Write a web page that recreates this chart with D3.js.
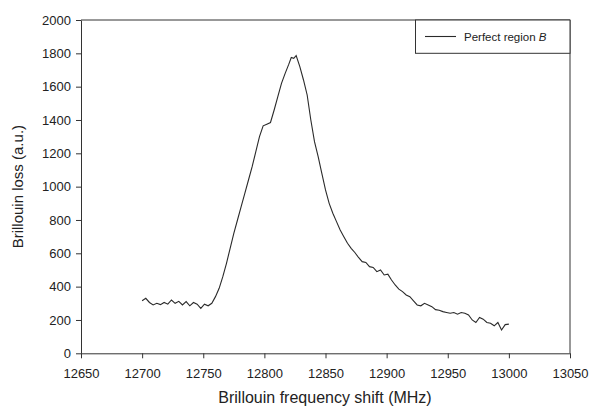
<!DOCTYPE html>
<head>
  <meta charset="utf-8">
  <script src="https://d3js.org/d3.v7.min.js"></script>
  <style>
    body { margin: 0; background: #fff; }
    * { font-family: "Liberation Sans", Arial, sans-serif; }
  </style>
</head>
<body>
  <div id="chart"></div>
  <script>
    // frequency shift (MHz) and Brillouin loss (a.u.)
    var freq = [12700,12703,12706,12709,12712,12715,12718,12721,12724,12727,
      12730,12733,12736,12739,12742,12745,12748,12751,12754,12757,
      12760,12763,12766,12769,12772,12775,12778,12781,12784,12787,
      12790,12793,12796,12799,12802,12805,12808,12811,12814,12817,
      12820,12822,12824,12826,12829,12832,12835,12838,12841,12844,
      12847,12850,12853,12856,12859,12862,12865,12868,12871,12874,
      12877,12880,12883,12886,12889,12892,12895,12898,12901,12904,
      12907,12910,12913,12916,12919,12922,12925,12928,12931,12934,
      12937,12940,12943,12946,12949,12952,12955,12958,12961,12964,
      12967,12970,12973,12976,12979,12982,12985,12988,12991,12994,
      12997,13000];
    var loss = [315,330,305,290,300,292,305,295,320,300,
      312,290,310,285,305,295,270,295,285,300,
      340,390,460,540,630,720,800,880,960,1040,
      1120,1210,1300,1365,1375,1385,1460,1540,1620,1680,
      1735,1775,1770,1786,1720,1640,1550,1400,1270,1180,
      1080,980,900,840,790,740,700,660,630,605,
      575,550,545,520,515,490,500,470,475,440,
      410,385,370,350,340,315,290,285,300,290,
      280,262,258,250,245,240,245,235,245,240,
      230,200,185,215,205,185,180,165,185,140,
      172,175];
    var xTicks = [12650,12700,12750,12800,12850,12900,12950,13000,13050];
    var yTicks = [0,200,400,600,800,1000,1200,1400,1600,1800,2000];
    var seriesName = "Perfect region ";

    var width = 592, height = 410;
    var svg = d3.select("#chart").append("svg")
      .attr("width", width).attr("height", height);

    var x = d3.scaleLinear().domain([12650, 13050]).range([81, 570]);
    var y = d3.scaleLinear().domain([0, 2000]).range([353.3, 20]);

    var ink = "#333";

    // box top/right
    svg.append("path")
      .attr("d", "M81,20H570V353.3")
      .attr("fill", "none").attr("stroke", ink).attr("stroke-width", 1);

    var xAxis = svg.append("g")
      .attr("transform", "translate(0," + y(0) + ")")
      .call(d3.axisBottom(x).tickValues(xTicks).tickFormat(d3.format("d")).tickSize(5).tickSizeOuter(0));
    var yAxis = svg.append("g")
      .attr("transform", "translate(" + x(12650) + ",0)")
      .call(d3.axisLeft(y).tickValues(yTicks).tickFormat(d3.format("d")).tickSize(5).tickSizeOuter(0));

    [xAxis, yAxis].forEach(function(g) {
      g.selectAll("path, line").attr("stroke", ink);
      g.selectAll("text").attr("fill", "#222").style("font-size", "13px");
    });
    xAxis.selectAll("text").attr("y", 10).attr("dy", "1.1em");
    yAxis.selectAll("text").attr("x", -10);

    var line = d3.line()
      .x(function(d, i) { return x(freq[i]); })
      .y(function(d) { return y(d); });

    svg.append("path")
      .datum(loss)
      .attr("d", line)
      .attr("fill", "none")
      .attr("stroke", "#2a2a2a")
      .attr("stroke-width", 1.1);

    // axis titles
    svg.append("text")
      .attr("x", 325).attr("y", 403)
      .attr("text-anchor", "middle")
      .style("font-size", "16px").attr("fill", "#222")
      .text("Brillouin frequency shift (MHz)");
    svg.append("text")
      .attr("transform", "translate(23," + ((y(0) + y(2000)) / 2) + ") rotate(-90)")
      .attr("text-anchor", "middle")
      .style("font-size", "15px").attr("fill", "#222")
      .text("Brillouin loss (a.u.)");

    // legend
    var lg = svg.append("g");
    lg.append("rect")
      .attr("x", 415.5).attr("y", 20).attr("width", 154.5).attr("height", 33.3)
      .attr("fill", "#fff").attr("stroke", ink).attr("stroke-width", 1);
    lg.append("line")
      .attr("x1", 425).attr("x2", 456).attr("y1", 36.5).attr("y2", 36.5)
      .attr("stroke", "#2a2a2a").attr("stroke-width", 1.1);
    var lt = lg.append("text")
      .attr("x", 464).attr("y", 41)
      .style("font-size", "11.5px").attr("fill", "#222");
    lt.append("tspan").text(seriesName);
    lt.append("tspan").style("font-style", "italic").text("B");
  </script>
</body>
